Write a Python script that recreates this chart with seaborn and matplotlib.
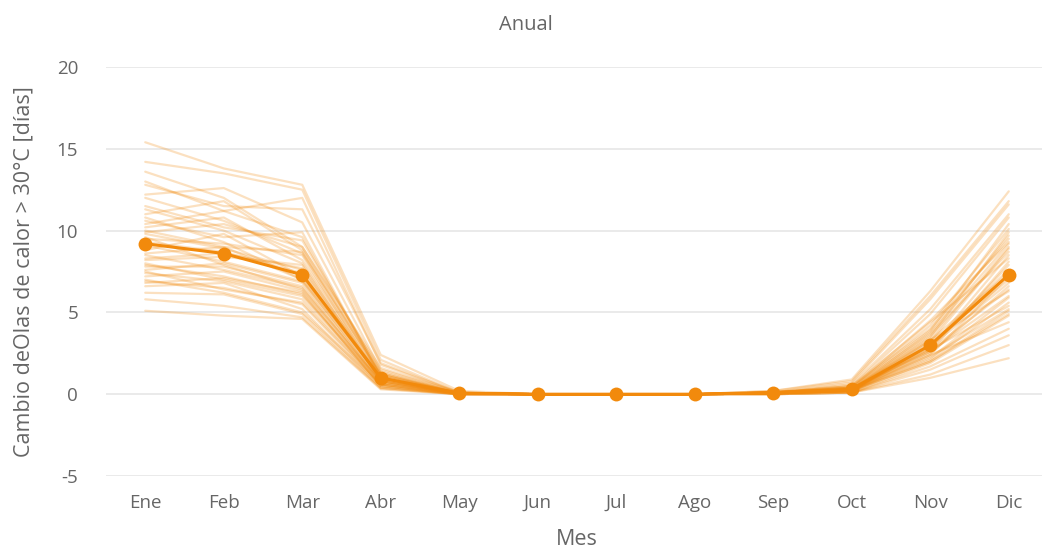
import numpy as np
import pandas as pd
import matplotlib
matplotlib.use("Agg")
import matplotlib.pyplot as plt
import seaborn as sns

# Months on the x axis
meses = ["Ene", "Feb", "Mar", "Abr", "May", "Jun", "Jul", "Ago", "Sep", "Oct", "Nov", "Dic"]

# Ensemble mean (highlighted line with markers)
media = [9.2, 8.6, 7.3, 1.0, 0.05, 0.0, 0.0, 0.0, 0.1, 0.3, 3.0, 7.3]

# Individual model runs (faint lines)
m01 = [15.4, 13.8, 12.8, 2.4, 0.20, 0, 0, 0, 0.20, 0.9, 6.3, 12.4]
m02 = [14.2, 13.5, 12.5, 2.1, 0.10, 0, 0, 0, 0.10, 0.7, 5.8, 11.6]
m03 = [13.0, 11.2, 12.0, 1.8, 0.10, 0, 0, 0, 0.10, 0.5, 4.9, 10.8]
m04 = [12.2, 12.6, 10.5, 1.5, 0.10, 0, 0, 0, 0.10, 0.4, 4.2, 10.1]
m05 = [11.5, 10.2, 9.4, 1.3, 0.05, 0, 0, 0, 0.10, 0.3, 3.8, 9.7]
m06 = [11.0, 11.8, 8.8, 1.1, 0.05, 0, 0, 0, 0.10, 0.4, 4.5, 9.3]
m07 = [10.6, 9.6, 9.9, 1.0, 0.05, 0, 0, 0, 0.05, 0.3, 3.2, 8.9]
m08 = [10.2, 10.8, 8.2, 1.2, 0.05, 0, 0, 0, 0.10, 0.2, 2.8, 8.5]
m09 = [9.8, 8.9, 7.6, 0.9, 0.05, 0, 0, 0, 0.05, 0.3, 3.5, 9.9]
m10 = [9.5, 9.2, 8.5, 0.8, 0.05, 0, 0, 0, 0.10, 0.4, 2.6, 8.1]
m11 = [9.1, 8.1, 6.9, 0.9, 0.05, 0, 0, 0, 0.05, 0.2, 3.0, 7.6]
m12 = [8.8, 9.8, 7.2, 1.0, 0.05, 0, 0, 0, 0.10, 0.3, 2.4, 7.2]
m13 = [8.5, 7.6, 6.5, 0.7, 0.05, 0, 0, 0, 0.05, 0.2, 2.9, 6.8]
m14 = [8.2, 8.4, 7.9, 0.8, 0.05, 0, 0, 0, 0.10, 0.2, 3.3, 6.3]
m15 = [7.9, 7.2, 6.1, 0.6, 0.05, 0, 0, 0, 0.05, 0.2, 2.2, 5.9]
m16 = [7.6, 8.0, 6.8, 0.7, 0.05, 0, 0, 0, 0.05, 0.3, 2.7, 5.4]
m17 = [7.4, 6.9, 5.8, 0.6, 0.00, 0, 0, 0, 0.05, 0.2, 2.0, 5.1]
m18 = [7.2, 7.5, 6.3, 0.5, 0.00, 0, 0, 0, 0.00, 0.1, 1.9, 4.8]
m19 = [6.9, 6.5, 5.5, 0.5, 0.00, 0, 0, 0, 0.05, 0.2, 2.4, 4.4]
m20 = [6.6, 6.8, 5.2, 0.4, 0.00, 0, 0, 0, 0.00, 0.1, 1.7, 4.0]
m21 = [6.2, 6.1, 4.9, 0.4, 0.00, 0, 0, 0, 0.00, 0.1, 1.5, 3.6]
m22 = [5.8, 5.4, 4.7, 0.35, 0.00, 0, 0, 0, 0.00, 0.1, 1.2, 3.0]
m23 = [5.1, 4.8, 4.6, 0.3, 0.00, 0, 0, 0, 0.00, 0.1, 1.0, 2.2]
m24 = [13.6, 12.0, 9.0, 1.6, 0.10, 0, 0, 0, 0.10, 0.6, 5.2, 11.0]
m25 = [12.8, 11.5, 11.3, 1.9, 0.10, 0, 0, 0, 0.20, 0.8, 6.0, 11.8]
m26 = [10.8, 9.3, 7.0, 1.2, 0.05, 0, 0, 0, 0.10, 0.3, 3.6, 8.7]
m27 = [9.9, 10.4, 9.0, 1.4, 0.05, 0, 0, 0, 0.10, 0.5, 4.0, 9.5]
m28 = [8.0, 7.0, 6.0, 0.8, 0.05, 0, 0, 0, 0.05, 0.2, 2.5, 6.6]
m29 = [7.0, 6.2, 5.0, 0.6, 0.05, 0, 0, 0, 0.05, 0.2, 2.1, 5.6]
m30 = [11.3, 10.0, 8.0, 1.0, 0.05, 0, 0, 0, 0.10, 0.4, 3.9, 10.4]
m31 = [10.4, 11.2, 9.6, 1.1, 0.05, 0, 0, 0, 0.10, 0.3, 3.4, 9.0]
m32 = [9.3, 8.7, 7.4, 0.9, 0.05, 0, 0, 0, 0.05, 0.3, 2.8, 7.9]
m33 = [8.6, 9.0, 7.0, 0.8, 0.05, 0, 0, 0, 0.05, 0.2, 3.1, 7.0]
m34 = [7.8, 7.8, 6.6, 0.7, 0.05, 0, 0, 0, 0.05, 0.2, 2.6, 6.0]
m35 = [7.5, 6.4, 5.6, 0.6, 0.00, 0, 0, 0, 0.05, 0.2, 2.3, 5.2]
m36 = [10.0, 9.0, 8.7, 1.3, 0.05, 0, 0, 0, 0.10, 0.4, 3.7, 9.2]
m37 = [12.0, 10.6, 8.6, 1.2, 0.05, 0, 0, 0, 0.10, 0.5, 4.4, 8.3]
m38 = [6.8, 7.1, 6.2, 0.5, 0.00, 0, 0, 0, 0.05, 0.2, 2.0, 4.9]
m39 = [9.6, 7.9, 6.4, 0.8, 0.05, 0, 0, 0, 0.05, 0.3, 2.7, 6.4]
m40 = [8.3, 8.6, 7.7, 1.0, 0.05, 0, 0, 0, 0.05, 0.3, 3.3, 7.4]

miembros = [m01, m02, m03, m04, m05, m06, m07, m08, m09, m10,
            m11, m12, m13, m14, m15, m16, m17, m18, m19, m20,
            m21, m22, m23, m24, m25, m26, m27, m28, m29, m30,
            m31, m32, m33, m34, m35, m36, m37, m38, m39, m40]

naranja = "#F28A0C"
gris_texto = "#666666"

sns.set_theme(style="white")
plt.rcParams["font.family"] = ["Open Sans", "DejaVu Sans"]
plt.rcParams["axes.unicode_minus"] = False

# Long-form table for the ensemble runs
filas = []
for i, serie in enumerate(miembros):
    for j, v in enumerate(serie):
        filas.append({"modelo": i, "x": j, "valor": v})
df = pd.DataFrame(filas)
df_media = pd.DataFrame({"x": np.arange(len(meses)), "valor": media})

fig = plt.figure(figsize=(10.42, 5.5), dpi=100)
ax = fig.add_axes([106 / 1042, 74 / 550, 942 / 1042, 409 / 550])

sns.lineplot(data=df, x="x", y="valor", units="modelo", estimator=None,
             color=naranja, alpha=0.26, linewidth=1.6, ax=ax, legend=False)
sns.lineplot(data=df_media, x="x", y="valor", color=naranja, linewidth=2.2,
             marker="o", markersize=10, markeredgewidth=0, ax=ax, legend=False)

ax.set_xlim(-0.5, 11.5)
ax.set_ylim(-5, 20)
ax.set_yticks([-5, 0, 5, 10, 15, 20])
ax.set_xticks(np.arange(len(meses)))
ax.set_xticklabels(meses)
ax.yaxis.grid(True, color="#e6e6e6", linewidth=1.2)
ax.xaxis.grid(False)
for s in ax.spines.values():
    s.set_visible(False)
ax.tick_params(axis="both", length=0, labelsize=13.5, labelcolor=gris_texto)
ax.tick_params(axis="x", pad=13)
ax.tick_params(axis="y", pad=20)

ax.set_xlabel("Mes", fontsize=15.5, color=gris_texto, labelpad=12)
ax.set_ylabel("Cambio deOlas de calor > 30°C [días]", fontsize=15.5,
              color=gris_texto, labelpad=16)
fig.text(0.505, 0.955, "Anual", ha="center", va="center", fontsize=14.5,
         color=gris_texto)

fig.savefig("out.png", dpi=100)
